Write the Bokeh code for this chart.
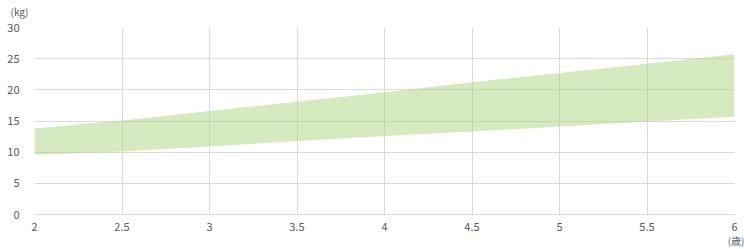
from bokeh.plotting import figure
from bokeh.models import Title, FixedTicker, Range1d
from bokeh.embed import file_html
from bokeh.resources import INLINE

ages = [2.0, 2.5, 3.0, 3.5, 4.0, 4.5, 5.0, 5.5, 6.0]
lower = [9.6, 10.1, 10.9, 11.8, 12.6, 13.3, 14.1, 14.9, 15.7]
upper = [13.8, 15.1, 16.6, 18.1, 19.6, 21.2, 22.7, 24.2, 25.7]
x_ticks = [2, 2.5, 3, 3.5, 4, 4.5, 5, 5.5, 6]
x_tick_labels = ["2", "2.5", "3", "3.5", "4", "4.5", "5", "5.5", "6"]
y_ticks = [0, 5, 10, 15, 20, 25, 30]

FONT = "Noto Sans CJK JP"
GRAY = "#595959"

p = figure(width=744, height=249, output_backend="svg", toolbar_location=None,
           x_range=Range1d(2, 6), y_range=Range1d(0, 30),
           min_border_left=34, min_border_right=10, min_border_top=27, min_border_bottom=35)
p.outline_line_color = None
p.background_fill_color = "white"

p.varea(x=ages, y1=lower, y2=upper, fill_color="#acd57e", fill_alpha=0.5)

p.xaxis.ticker = FixedTicker(ticks=x_ticks)
p.xaxis.major_label_overrides = {t: l for t, l in zip(x_ticks, x_tick_labels)}
p.yaxis.ticker = FixedTicker(ticks=y_ticks)
p.xgrid.ticker = FixedTicker(ticks=x_ticks)
p.ygrid.ticker = FixedTicker(ticks=y_ticks)
for g in (p.xgrid, p.ygrid):
    g.grid_line_color = "#d9d9d9"
    g.grid_line_width = 1
for ax in (p.xaxis, p.yaxis):
    ax.major_tick_line_color = None
    ax.minor_tick_line_color = None
    ax.major_label_text_font = FONT
    ax.major_label_text_font_size = "11px"
    ax.major_label_text_color = GRAY
p.xaxis.axis_line_color = "#d9d9d9"
p.yaxis.axis_line_color = None
p.xaxis.major_label_standoff = 2
p.yaxis.major_label_standoff = 9

# small spacer so the unit label sits higher above the frame
p.add_layout(Title(text=" ", standoff=0, text_font=FONT, text_font_size="4px"), "above")
p.add_layout(Title(text="(kg)", align="left", offset=-24, standoff=2,
                   text_font=FONT, text_font_size="10px", text_font_style="normal",
                   text_color=GRAY), "above")
p.add_layout(Title(text="(歳)", align="right", offset=-10, standoff=-6,
                   text_font=FONT, text_font_size="10px", text_font_style="normal",
                   text_color=GRAY), "below")

open("out.html", "w").write(file_html(p, INLINE))
